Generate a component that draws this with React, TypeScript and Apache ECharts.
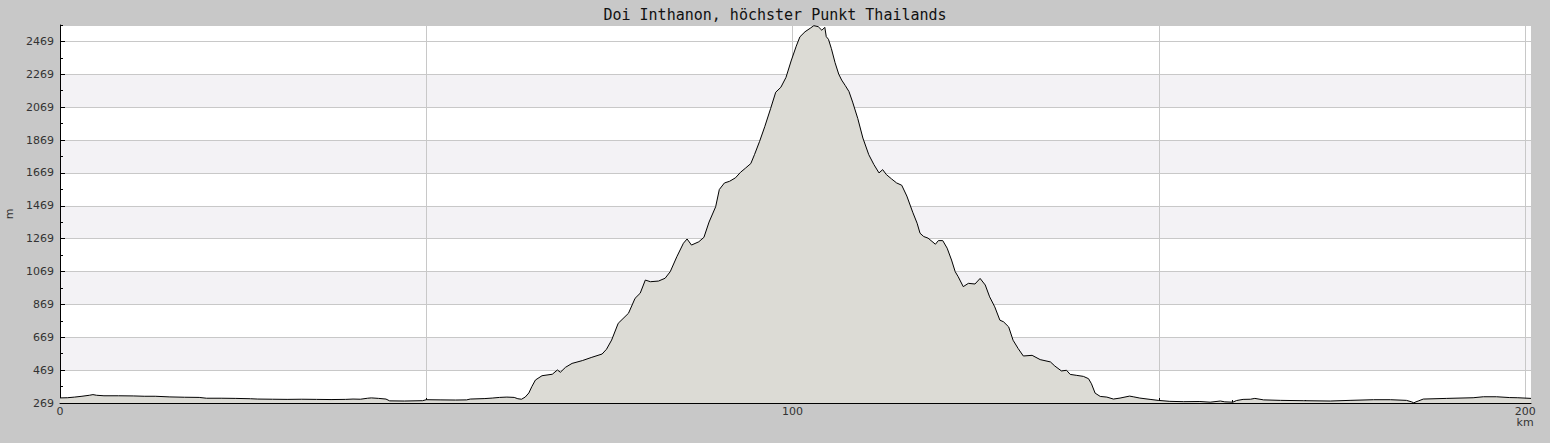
import React, { useEffect, useRef } from 'react';
import * as echarts from 'echarts';

const TITLE = 'Doi Inthanon, höchster Punkt Thailands';
const X_NAME = 'km';
const Y_NAME = 'm';

const distanceKm = [
  0, 1, 2, 3, 4, 4.5, 5, 6, 8, 10, 11.5, 13, 15, 17, 19, 20, 22, 24, 26, 27, 29, 31, 33, 35, 37, 39, 40, 41, 42, 42.5,
  43.5, 44.5, 45, 47, 49.5, 50, 52, 54, 55.5, 56, 58, 59, 60, 61, 62, 62.5, 63, 63.5, 64, 64.4, 64.9, 65.8, 67.2, 67.9,
  68.3, 69, 69.9, 71.3, 72.6, 74, 74.6, 75.3, 76.2, 77.6, 78.5, 79.2, 79.9, 80.6, 81.7, 82.6, 83.3, 84.2, 85.1, 85.6,
  86.2, 87.2, 87.9, 88.6, 89.5, 90, 90.7, 91.4, 92.2, 92.9, 93.6, 94.3, 94.8, 95.5, 96.2, 97, 97.7, 98.4, 99.1, 99.8,
  100.5, 101, 101.7, 102.4, 102.9, 103.5, 104, 104.4, 104.6, 104.9, 105.3, 105.8, 106.3, 106.7, 107.2, 107.7, 108.2,
  108.9, 109.6, 110.4, 111.1, 111.8, 112.3, 112.8, 113.5, 114.2, 114.9, 115.6, 116.4, 117, 117.4, 117.9, 118.5, 119.5,
  119.9, 120.5, 121.1, 121.7, 122.2, 122.6, 123.3, 124, 124.9, 125.6, 126.3, 126.9, 127.6, 128.3, 128.8, 129.5, 130.1,
  130.8, 131.5, 132.7, 133.8, 135.2, 135.8, 136.7, 137.4, 137.9, 138.8, 139.7, 140.4, 140.8, 141.3, 142, 142.9, 143.8,
  144.7, 146, 146.5, 147.4, 148.8, 149.9, 151.5, 153.4, 155.6, 157, 158.4, 159, 160.1, 160.6, 161.5, 162.5, 163.1,
  164.3, 166.6, 169.7, 173.4, 176.1, 179.3, 181.6, 183.8, 184.5, 184.8, 185.1, 185.4, 186.1, 189.3, 192.9, 194.3,
  196.1, 197.9, 199, 200.8,
];

const elevationM = [
  300, 301, 305, 310, 316, 320, 316, 313, 313, 312, 310, 310, 306, 304, 303, 298, 298, 297, 295, 293, 292, 291, 292, 291,
  290, 291, 293, 292, 298, 300, 297, 293, 282, 281, 283, 289, 288, 287, 288, 293, 296, 299, 303, 305, 303, 295, 292,
  305, 330, 368, 409, 435, 444, 470, 456, 486, 510, 527, 547, 567, 596, 652, 754, 815, 906, 937, 1017, 1007, 1011,
  1028, 1068, 1159, 1241, 1267, 1230, 1250, 1277, 1370, 1463, 1568, 1608, 1618, 1639, 1673, 1699, 1726, 1780, 1861,
  1950, 2060, 2160, 2190, 2250, 2350, 2440, 2497, 2528, 2549, 2565, 2559, 2537, 2555, 2498, 2482, 2425, 2340, 2270,
  2234, 2200, 2164, 2100, 2000, 1881, 1780, 1720, 1669, 1689, 1659, 1633, 1608, 1594, 1528, 1430, 1363, 1302, 1282,
  1272, 1235, 1257, 1257, 1211, 1139, 1068, 1038, 977, 997, 993, 1027, 987, 915, 854, 773, 763, 732, 651, 600, 555,
  559, 533, 519, 494, 464, 468, 443, 437, 431, 417, 386, 329, 309, 305, 293, 299, 311, 307, 299, 291, 285, 279, 277,
  278, 274, 281, 276, 274, 284, 291, 292, 297, 288, 285, 283, 281, 285, 289, 289, 285, 276, 270, 276, 281, 293, 297,
  301, 307, 307, 302, 301, 297,
];

const yMin = 269;
const yMax = 2569;
const yStep = 200;
const yMinorTicks = [369, 569, 769, 969, 1169, 1369, 1569, 1769, 1969, 2169, 2369, 2569];
const xMin = 0;
const xMax = 200.8;
const xStep = 50;
const xLabelValues = [0, 100, 200];
const xMinorTicks = [10, 20, 30, 40, 60, 70, 80, 90, 110, 120, 130, 140, 160, 170, 180, 190];

const BAND_WHITE = '#ffffff';
const BAND_GREY = '#f3f2f5';

export default function App() {
  const ref = useRef<HTMLDivElement>(null);

  useEffect(() => {
    if (!ref.current) return;
    const chart = echarts.init(ref.current, null, { renderer: 'svg' });
    const data = distanceKm.map((d, i) => [d, elevationM[i]]);
    const labelFont = 'DejaVu Sans';

    chart.setOption({
      animation: false,
      backgroundColor: '#c8c8c8',
      title: {
        text: TITLE,
        left: 'center',
        top: 7,
        padding: 0,
        textStyle: {
          fontFamily: 'DejaVu Sans Mono',
          fontSize: 15,
          fontWeight: 'normal',
          color: '#111111',
        },
      },
      grid: {
        left: 60,
        right: 19,
        top: 25,
        bottom: 40,
        show: true,
        backgroundColor: '#ffffff',
        borderWidth: 0,
        containLabel: false,
        outerBoundsMode: 'none',
      },
      xAxis: [
        {
          type: 'value',
          position: 'bottom',
          min: xMin,
          max: xMax,
          interval: xStep,
          name: '',
          axisLine: { show: true, onZero: false, lineStyle: { color: '#000000', width: 1 } },
          axisTick: { show: true, inside: true, length: 5, lineStyle: { color: '#000000' } },
          axisLabel: {
            show: true,
            margin: 3,
            showMaxLabel: false,
            fontFamily: labelFont,
            fontSize: 11,
            lineHeight: 11,
            color: '#333333',
            formatter: (v: number) => {
              if (!xLabelValues.includes(v)) return '';
              return v === 200 ? `${v}\n${X_NAME}` : String(v);
            },
          },
          splitLine: { show: true, lineStyle: { color: '#c8c8c8', width: 1 } },
          splitArea: { show: false },
        },
        {
          type: 'value',
          position: 'bottom',
          min: xMin,
          max: xMax,
          axisLine: { show: false, onZero: false },
          axisTick: {
            show: true,
            inside: true,
            length: 3,
            customValues: xMinorTicks,
            lineStyle: { color: '#000000' },
          },
          axisLabel: { show: false },
          splitLine: { show: false },
        },
      ],
      yAxis: [
        {
          type: 'value',
          position: 'left',
          min: yMin,
          max: yMax,
          interval: yStep,
          name: Y_NAME,
          nameLocation: 'middle',
          nameGap: 42,
          nameRotate: 90,
          nameTextStyle: { fontFamily: labelFont, fontSize: 11, color: '#333333' },
          axisLine: { show: true, onZero: false, lineStyle: { color: '#000000', width: 1 } },
          axisTick: { show: true, inside: true, length: 5, lineStyle: { color: '#000000' } },
          axisLabel: {
            show: true,
            margin: 6,
            showMaxLabel: false,
            fontFamily: labelFont,
            fontSize: 11,
            color: '#333333',
            formatter: (v: number) => String(v),
          },
          splitLine: { show: true, lineStyle: { color: '#c8c8c8', width: 1 } },
          splitArea: {
            show: true,
            areaStyle: {
              color: [
                BAND_WHITE, BAND_GREY, BAND_WHITE, BAND_GREY, BAND_WHITE, BAND_GREY,
                BAND_WHITE, BAND_GREY, BAND_WHITE, BAND_GREY, BAND_WHITE, BAND_WHITE,
              ],
            },
          },
        },
        {
          type: 'value',
          position: 'left',
          min: yMin,
          max: yMax,
          axisLine: { show: false, onZero: false },
          axisTick: {
            show: true,
            inside: true,
            length: 3,
            customValues: yMinorTicks,
            lineStyle: { color: '#000000' },
          },
          axisLabel: { show: false },
          splitLine: { show: false },
        },
      ],
      series: [
        {
          type: 'line',
          xAxisIndex: 0,
          yAxisIndex: 0,
          data,
          showSymbol: false,
          symbol: 'none',
          smooth: false,
          lineStyle: { color: '#000000', width: 1 },
          areaStyle: { color: '#dcdbd5', opacity: 1, origin: 'start' },
          silent: true,
        },
      ],
    });

    return () => chart.dispose();
  }, []);

  return (
    <div
      ref={ref}
      style={{ position: 'fixed', left: 0, top: 0, width: 1550, height: 443 }}
    />
  );
}
